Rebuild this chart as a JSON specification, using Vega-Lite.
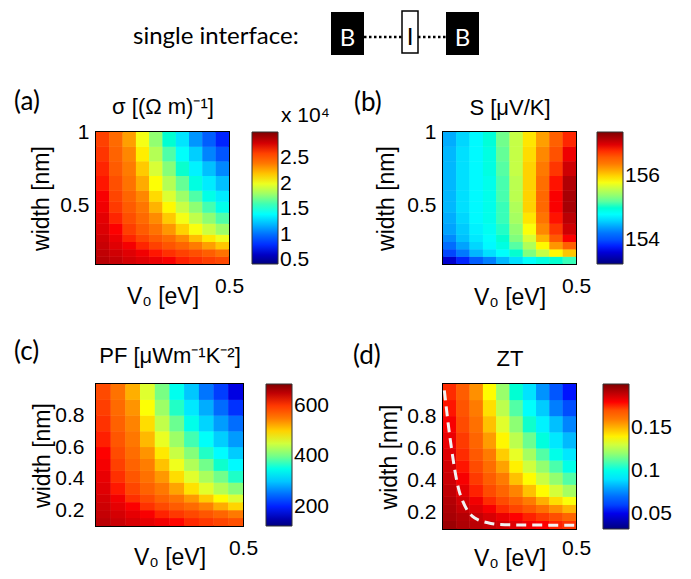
{
  "$schema": "https://vega.github.io/schema/vega-lite/v6.json",
  "background": "white",
  "padding": {"left": 13, "top": 10, "right": 0, "bottom": 0},
  "config": {
    "font": "Liberation Sans",
    "view": {"stroke": "black", "strokeWidth": 2},
    "axis": {"grid": false, "ticks": false, "domain": false, "labelColor": "black", "titleColor": "black", "labelFontSize": 21, "titleFontSize": 23, "titleFontWeight": "normal", "labelFont": "Liberation Sans", "titleFont": "Liberation Sans", "format": "~g"},
    "legend": {"labelFontSize": 21, "labelColor": "black", "labelFont": "Liberation Sans", "gradientThickness": 26, "gradientStrokeColor": "#333333", "gradientStrokeWidth": 1, "labelOverlap": false, "titleColor": "black", "labelOffset": 5},
    "title": {"font": "Lato", "fontSize": 26, "fontWeight": "normal", "color": "black", "anchor": "start", "frame": "group"}
  },
  "datasets": {
    "grid": [
      {"v0":0,"v1":0.05,"w0":0.1,"w1":0.15,"sigma":2.87,"S":153.56,"PF":652,"ZT":0.196},
      {"v0":0.05,"v1":0.1,"w0":0.1,"w1":0.15,"sigma":2.84,"S":153.81,"PF":644,"ZT":0.193},
      {"v0":0.1,"v1":0.15,"w0":0.1,"w1":0.15,"sigma":2.80,"S":154.06,"PF":636,"ZT":0.191},
      {"v0":0.15,"v1":0.2,"w0":0.1,"w1":0.15,"sigma":2.77,"S":154.27,"PF":629,"ZT":0.189},
      {"v0":0.2,"v1":0.25,"w0":0.1,"w1":0.15,"sigma":2.74,"S":154.48,"PF":622,"ZT":0.187},
      {"v0":0.25,"v1":0.3,"w0":0.1,"w1":0.15,"sigma":2.71,"S":154.65,"PF":615,"ZT":0.185},
      {"v0":0.3,"v1":0.35,"w0":0.1,"w1":0.15,"sigma":2.67,"S":154.81,"PF":607,"ZT":0.182},
      {"v0":0.35,"v1":0.4,"w0":0.1,"w1":0.15,"sigma":2.64,"S":154.94,"PF":600,"ZT":0.180},
      {"v0":0.4,"v1":0.45,"w0":0.1,"w1":0.15,"sigma":2.61,"S":155.02,"PF":593,"ZT":0.178},
      {"v0":0.45,"v1":0.5,"w0":0.1,"w1":0.15,"sigma":2.58,"S":155.11,"PF":586,"ZT":0.176},

      {"v0":0,"v1":0.05,"w0":0.15,"w1":0.2,"sigma":2.85,"S":153.94,"PF":647,"ZT":0.194},
      {"v0":0.05,"v1":0.1,"w0":0.15,"w1":0.2,"sigma":2.81,"S":154.23,"PF":638,"ZT":0.192},
      {"v0":0.1,"v1":0.15,"w0":0.15,"w1":0.2,"sigma":2.77,"S":154.48,"PF":629,"ZT":0.189},
      {"v0":0.15,"v1":0.2,"w0":0.15,"w1":0.2,"sigma":2.73,"S":154.65,"PF":619,"ZT":0.186},
      {"v0":0.2,"v1":0.25,"w0":0.15,"w1":0.2,"sigma":2.68,"S":154.81,"PF":609,"ZT":0.183},
      {"v0":0.25,"v1":0.3,"w0":0.15,"w1":0.2,"sigma":2.64,"S":155.02,"PF":600,"ZT":0.180},
      {"v0":0.3,"v1":0.35,"w0":0.15,"w1":0.2,"sigma":2.60,"S":155.32,"PF":591,"ZT":0.178},
      {"v0":0.35,"v1":0.4,"w0":0.15,"w1":0.2,"sigma":2.56,"S":155.61,"PF":581,"ZT":0.175},
      {"v0":0.4,"v1":0.45,"w0":0.15,"w1":0.2,"sigma":2.51,"S":155.86,"PF":569,"ZT":0.171},
      {"v0":0.45,"v1":0.5,"w0":0.15,"w1":0.2,"sigma":2.43,"S":156.07,"PF":551,"ZT":0.166},

      {"v0":0,"v1":0.05,"w0":0.2,"w1":0.25,"sigma":2.83,"S":154.15,"PF":642,"ZT":0.193},
      {"v0":0.05,"v1":0.1,"w0":0.2,"w1":0.25,"sigma":2.77,"S":154.40,"PF":629,"ZT":0.189},
      {"v0":0.1,"v1":0.15,"w0":0.2,"w1":0.25,"sigma":2.72,"S":154.61,"PF":617,"ZT":0.185},
      {"v0":0.15,"v1":0.2,"w0":0.2,"w1":0.25,"sigma":2.66,"S":154.77,"PF":603,"ZT":0.181},
      {"v0":0.2,"v1":0.25,"w0":0.2,"w1":0.25,"sigma":2.60,"S":154.94,"PF":590,"ZT":0.177},
      {"v0":0.25,"v1":0.3,"w0":0.2,"w1":0.25,"sigma":2.54,"S":155.19,"PF":577,"ZT":0.173},
      {"v0":0.3,"v1":0.35,"w0":0.2,"w1":0.25,"sigma":2.48,"S":155.52,"PF":564,"ZT":0.169},
      {"v0":0.35,"v1":0.4,"w0":0.2,"w1":0.25,"sigma":2.39,"S":155.86,"PF":544,"ZT":0.163},
      {"v0":0.4,"v1":0.45,"w0":0.2,"w1":0.25,"sigma":2.29,"S":156.27,"PF":521,"ZT":0.156},
      {"v0":0.45,"v1":0.5,"w0":0.2,"w1":0.25,"sigma":2.19,"S":156.57,"PF":498,"ZT":0.150},

      {"v0":0,"v1":0.05,"w0":0.25,"w1":0.3,"sigma":2.81,"S":154.31,"PF":638,"ZT":0.192},
      {"v0":0.05,"v1":0.1,"w0":0.25,"w1":0.3,"sigma":2.74,"S":154.52,"PF":622,"ZT":0.187},
      {"v0":0.1,"v1":0.15,"w0":0.25,"w1":0.3,"sigma":2.66,"S":154.69,"PF":604,"ZT":0.182},
      {"v0":0.15,"v1":0.2,"w0":0.25,"w1":0.3,"sigma":2.59,"S":154.81,"PF":589,"ZT":0.177},
      {"v0":0.2,"v1":0.25,"w0":0.25,"w1":0.3,"sigma":2.52,"S":155.02,"PF":571,"ZT":0.172},
      {"v0":0.25,"v1":0.3,"w0":0.25,"w1":0.3,"sigma":2.45,"S":155.32,"PF":555,"ZT":0.167},
      {"v0":0.3,"v1":0.35,"w0":0.25,"w1":0.3,"sigma":2.34,"S":155.69,"PF":531,"ZT":0.160},
      {"v0":0.35,"v1":0.4,"w0":0.25,"w1":0.3,"sigma":2.21,"S":156.15,"PF":503,"ZT":0.151},
      {"v0":0.4,"v1":0.45,"w0":0.25,"w1":0.3,"sigma":2.10,"S":156.61,"PF":476,"ZT":0.143},
      {"v0":0.45,"v1":0.5,"w0":0.25,"w1":0.3,"sigma":2.01,"S":156.90,"PF":456,"ZT":0.137},

      {"v0":0,"v1":0.05,"w0":0.3,"w1":0.375,"sigma":2.78,"S":154.40,"PF":632,"ZT":0.190},
      {"v0":0.05,"v1":0.1,"w0":0.3,"w1":0.375,"sigma":2.70,"S":154.56,"PF":612,"ZT":0.184},
      {"v0":0.1,"v1":0.15,"w0":0.3,"w1":0.375,"sigma":2.61,"S":154.73,"PF":592,"ZT":0.178},
      {"v0":0.15,"v1":0.2,"w0":0.3,"w1":0.375,"sigma":2.52,"S":154.86,"PF":572,"ZT":0.172},
      {"v0":0.2,"v1":0.25,"w0":0.3,"w1":0.375,"sigma":2.43,"S":155.06,"PF":552,"ZT":0.166},
      {"v0":0.25,"v1":0.3,"w0":0.3,"w1":0.375,"sigma":2.31,"S":155.40,"PF":525,"ZT":0.158},
      {"v0":0.3,"v1":0.35,"w0":0.3,"w1":0.375,"sigma":2.16,"S":155.82,"PF":491,"ZT":0.148},
      {"v0":0.35,"v1":0.4,"w0":0.3,"w1":0.375,"sigma":2.03,"S":156.32,"PF":460,"ZT":0.138},
      {"v0":0.4,"v1":0.45,"w0":0.3,"w1":0.375,"sigma":1.92,"S":156.77,"PF":435,"ZT":0.131},
      {"v0":0.45,"v1":0.5,"w0":0.3,"w1":0.375,"sigma":1.80,"S":157.07,"PF":409,"ZT":0.123},

      {"v0":0,"v1":0.05,"w0":0.375,"w1":0.45,"sigma":2.76,"S":154.44,"PF":627,"ZT":0.188},
      {"v0":0.05,"v1":0.1,"w0":0.375,"w1":0.45,"sigma":2.66,"S":154.61,"PF":604,"ZT":0.181},
      {"v0":0.1,"v1":0.15,"w0":0.375,"w1":0.45,"sigma":2.56,"S":154.77,"PF":581,"ZT":0.175},
      {"v0":0.15,"v1":0.2,"w0":0.375,"w1":0.45,"sigma":2.46,"S":154.90,"PF":559,"ZT":0.168},
      {"v0":0.2,"v1":0.25,"w0":0.375,"w1":0.45,"sigma":2.34,"S":155.11,"PF":532,"ZT":0.160},
      {"v0":0.25,"v1":0.3,"w0":0.375,"w1":0.45,"sigma":2.18,"S":155.48,"PF":494,"ZT":0.148},
      {"v0":0.3,"v1":0.35,"w0":0.375,"w1":0.45,"sigma":2.02,"S":155.94,"PF":459,"ZT":0.138},
      {"v0":0.35,"v1":0.4,"w0":0.375,"w1":0.45,"sigma":1.89,"S":156.44,"PF":429,"ZT":0.129},
      {"v0":0.4,"v1":0.45,"w0":0.375,"w1":0.45,"sigma":1.76,"S":156.86,"PF":399,"ZT":0.120},
      {"v0":0.45,"v1":0.5,"w0":0.375,"w1":0.45,"sigma":1.63,"S":157.15,"PF":369,"ZT":0.111},

      {"v0":0,"v1":0.05,"w0":0.45,"w1":0.525,"sigma":2.73,"S":154.48,"PF":621,"ZT":0.187},
      {"v0":0.05,"v1":0.1,"w0":0.45,"w1":0.525,"sigma":2.62,"S":154.65,"PF":596,"ZT":0.179},
      {"v0":0.1,"v1":0.15,"w0":0.45,"w1":0.525,"sigma":2.52,"S":154.77,"PF":571,"ZT":0.172},
      {"v0":0.15,"v1":0.2,"w0":0.45,"w1":0.525,"sigma":2.41,"S":154.90,"PF":547,"ZT":0.164},
      {"v0":0.2,"v1":0.25,"w0":0.45,"w1":0.525,"sigma":2.24,"S":155.11,"PF":509,"ZT":0.153},
      {"v0":0.25,"v1":0.3,"w0":0.45,"w1":0.525,"sigma":2.06,"S":155.52,"PF":467,"ZT":0.140},
      {"v0":0.3,"v1":0.35,"w0":0.45,"w1":0.525,"sigma":1.91,"S":156.02,"PF":433,"ZT":0.130},
      {"v0":0.35,"v1":0.4,"w0":0.45,"w1":0.525,"sigma":1.76,"S":156.52,"PF":399,"ZT":0.120},
      {"v0":0.4,"v1":0.45,"w0":0.45,"w1":0.525,"sigma":1.61,"S":156.90,"PF":366,"ZT":0.110},
      {"v0":0.45,"v1":0.5,"w0":0.45,"w1":0.525,"sigma":1.46,"S":157.23,"PF":331,"ZT":0.100},

      {"v0":0,"v1":0.05,"w0":0.525,"w1":0.6,"sigma":2.71,"S":154.48,"PF":616,"ZT":0.185},
      {"v0":0.05,"v1":0.1,"w0":0.525,"w1":0.6,"sigma":2.59,"S":154.65,"PF":589,"ZT":0.177},
      {"v0":0.1,"v1":0.15,"w0":0.525,"w1":0.6,"sigma":2.48,"S":154.77,"PF":562,"ZT":0.169},
      {"v0":0.15,"v1":0.2,"w0":0.525,"w1":0.6,"sigma":2.35,"S":154.90,"PF":534,"ZT":0.160},
      {"v0":0.2,"v1":0.25,"w0":0.525,"w1":0.6,"sigma":2.14,"S":155.15,"PF":487,"ZT":0.146},
      {"v0":0.25,"v1":0.3,"w0":0.525,"w1":0.6,"sigma":1.96,"S":155.57,"PF":446,"ZT":0.134},
      {"v0":0.3,"v1":0.35,"w0":0.525,"w1":0.6,"sigma":1.80,"S":156.02,"PF":408,"ZT":0.123},
      {"v0":0.35,"v1":0.4,"w0":0.525,"w1":0.6,"sigma":1.63,"S":156.52,"PF":370,"ZT":0.111},
      {"v0":0.4,"v1":0.45,"w0":0.525,"w1":0.6,"sigma":1.47,"S":156.90,"PF":333,"ZT":0.100},
      {"v0":0.45,"v1":0.5,"w0":0.525,"w1":0.6,"sigma":1.34,"S":157.23,"PF":303,"ZT":0.091},

      {"v0":0,"v1":0.05,"w0":0.6,"w1":0.7,"sigma":2.68,"S":154.48,"PF":610,"ZT":0.183},
      {"v0":0.05,"v1":0.1,"w0":0.6,"w1":0.7,"sigma":2.56,"S":154.65,"PF":581,"ZT":0.175},
      {"v0":0.1,"v1":0.15,"w0":0.6,"w1":0.7,"sigma":2.43,"S":154.77,"PF":553,"ZT":0.166},
      {"v0":0.15,"v1":0.2,"w0":0.6,"w1":0.7,"sigma":2.26,"S":154.90,"PF":514,"ZT":0.154},
      {"v0":0.2,"v1":0.25,"w0":0.6,"w1":0.7,"sigma":2.04,"S":155.15,"PF":464,"ZT":0.139},
      {"v0":0.25,"v1":0.3,"w0":0.6,"w1":0.7,"sigma":1.86,"S":155.57,"PF":422,"ZT":0.127},
      {"v0":0.3,"v1":0.35,"w0":0.6,"w1":0.7,"sigma":1.67,"S":156.02,"PF":380,"ZT":0.114},
      {"v0":0.35,"v1":0.4,"w0":0.6,"w1":0.7,"sigma":1.49,"S":156.48,"PF":338,"ZT":0.102},
      {"v0":0.4,"v1":0.45,"w0":0.6,"w1":0.7,"sigma":1.34,"S":156.86,"PF":304,"ZT":0.091},
      {"v0":0.45,"v1":0.5,"w0":0.6,"w1":0.7,"sigma":1.22,"S":157.19,"PF":277,"ZT":0.083},

      {"v0":0,"v1":0.05,"w0":0.7,"w1":0.8,"sigma":2.66,"S":154.48,"PF":603,"ZT":0.181},
      {"v0":0.05,"v1":0.1,"w0":0.7,"w1":0.8,"sigma":2.52,"S":154.65,"PF":573,"ZT":0.172},
      {"v0":0.1,"v1":0.15,"w0":0.7,"w1":0.8,"sigma":2.39,"S":154.77,"PF":543,"ZT":0.163},
      {"v0":0.15,"v1":0.2,"w0":0.7,"w1":0.8,"sigma":2.18,"S":154.94,"PF":494,"ZT":0.148},
      {"v0":0.2,"v1":0.25,"w0":0.7,"w1":0.8,"sigma":1.95,"S":155.19,"PF":442,"ZT":0.133},
      {"v0":0.25,"v1":0.3,"w0":0.7,"w1":0.8,"sigma":1.74,"S":155.61,"PF":396,"ZT":0.119},
      {"v0":0.3,"v1":0.35,"w0":0.7,"w1":0.8,"sigma":1.54,"S":156.02,"PF":349,"ZT":0.105},
      {"v0":0.35,"v1":0.4,"w0":0.7,"w1":0.8,"sigma":1.36,"S":156.40,"PF":308,"ZT":0.093},
      {"v0":0.4,"v1":0.45,"w0":0.7,"w1":0.8,"sigma":1.22,"S":156.77,"PF":278,"ZT":0.084},
      {"v0":0.45,"v1":0.5,"w0":0.7,"w1":0.8,"sigma":1.09,"S":157.07,"PF":248,"ZT":0.075},

      {"v0":0,"v1":0.05,"w0":0.8,"w1":0.9,"sigma":2.63,"S":154.48,"PF":597,"ZT":0.179},
      {"v0":0.05,"v1":0.1,"w0":0.8,"w1":0.9,"sigma":2.49,"S":154.65,"PF":565,"ZT":0.170},
      {"v0":0.1,"v1":0.15,"w0":0.8,"w1":0.9,"sigma":2.35,"S":154.77,"PF":534,"ZT":0.160},
      {"v0":0.15,"v1":0.2,"w0":0.8,"w1":0.9,"sigma":2.09,"S":154.94,"PF":474,"ZT":0.143},
      {"v0":0.2,"v1":0.25,"w0":0.8,"w1":0.9,"sigma":1.86,"S":155.23,"PF":422,"ZT":0.127},
      {"v0":0.25,"v1":0.3,"w0":0.8,"w1":0.9,"sigma":1.63,"S":155.61,"PF":370,"ZT":0.111},
      {"v0":0.3,"v1":0.35,"w0":0.8,"w1":0.9,"sigma":1.41,"S":155.98,"PF":320,"ZT":0.096},
      {"v0":0.35,"v1":0.4,"w0":0.8,"w1":0.9,"sigma":1.26,"S":156.32,"PF":286,"ZT":0.086},
      {"v0":0.4,"v1":0.45,"w0":0.8,"w1":0.9,"sigma":1.08,"S":156.65,"PF":246,"ZT":0.074},
      {"v0":0.45,"v1":0.5,"w0":0.8,"w1":0.9,"sigma":0.91,"S":156.94,"PF":207,"ZT":0.062},

      {"v0":0,"v1":0.05,"w0":0.9,"w1":1.0,"sigma":2.60,"S":154.44,"PF":590,"ZT":0.177},
      {"v0":0.05,"v1":0.1,"w0":0.9,"w1":1.0,"sigma":2.46,"S":154.61,"PF":558,"ZT":0.168},
      {"v0":0.1,"v1":0.15,"w0":0.9,"w1":1.0,"sigma":2.29,"S":154.77,"PF":519,"ZT":0.156},
      {"v0":0.15,"v1":0.2,"w0":0.9,"w1":1.0,"sigma":2.02,"S":154.98,"PF":458,"ZT":0.138},
      {"v0":0.2,"v1":0.25,"w0":0.9,"w1":1.0,"sigma":1.77,"S":155.27,"PF":402,"ZT":0.121},
      {"v0":0.25,"v1":0.3,"w0":0.9,"w1":1.0,"sigma":1.53,"S":155.61,"PF":346,"ZT":0.104},
      {"v0":0.3,"v1":0.35,"w0":0.9,"w1":1.0,"sigma":1.32,"S":155.94,"PF":300,"ZT":0.090},
      {"v0":0.35,"v1":0.4,"w0":0.9,"w1":1.0,"sigma":1.12,"S":156.23,"PF":255,"ZT":0.077},
      {"v0":0.4,"v1":0.45,"w0":0.9,"w1":1.0,"sigma":0.94,"S":156.57,"PF":213,"ZT":0.064},
      {"v0":0.45,"v1":0.5,"w0":0.9,"w1":1.0,"sigma":0.78,"S":156.82,"PF":178,"ZT":0.054}
    ],
    "dash": [
      {"v0":0.005,"w0":0.96},{"v0":0.012,"w0":0.86},{"v0":0.022,"w0":0.72},{"v0":0.032,"w0":0.6},
      {"v0":0.045,"w0":0.46},{"v0":0.06,"w0":0.34},{"v0":0.075,"w0":0.27},{"v0":0.09,"w0":0.22},
      {"v0":0.11,"w0":0.18},{"v0":0.135,"w0":0.155},{"v0":0.165,"w0":0.14},{"v0":0.21,"w0":0.128},
      {"v0":0.3,"w0":0.125},{"v0":0.4,"w0":0.124},{"v0":0.497,"w0":0.124}
    ]
  },
  "columns": 2,
  "spacing": {"row": 20, "column": 200},
  "bounds": "flush",
  "align": "each",
  "resolve": {"scale": {"color": "independent", "x": "independent", "y": "independent"}, "legend": {"color": "independent"}},
  "concat": [
    {
      "width": 147, "height": 102,
      "view": {"stroke": null},
      "layer": [
        {
          "data": {"values": [{"x0":23.5,"x1":26.8,"y0":5.7,"y1":10.0},{"x0":35.0,"x1":38.3,"y0":5.7,"y1":10.0}]},
          "mark": {"type": "rect", "color": "black"},
          "encoding": {
            "x": {"field": "x0", "type": "quantitative", "scale": {"domain": [0, 14.7], "nice": false, "zero": false}, "axis": null},
            "x2": {"field": "x1"},
            "y": {"field": "y0", "type": "quantitative", "scale": {"domain": [0, 10.2], "nice": false, "zero": false}, "axis": null},
            "y2": {"field": "y1"}
          }
        },
        {
          "data": {"values": [{"x0":30.6,"x1":32.2,"y0":5.9,"y1":10.1}]},
          "mark": {"type": "rect", "fill": "white", "stroke": "black", "strokeWidth": 1.5},
          "encoding": {
            "x": {"field": "x0", "type": "quantitative", "axis": null},
            "x2": {"field": "x1"},
            "y": {"field": "y0", "type": "quantitative", "axis": null},
            "y2": {"field": "y1"}
          }
        },
        {
          "data": {"values": [{"x0":26.8,"x1":30.6,"y0":7.5},{"x0":32.2,"x1":35.0,"y0":7.5}]},
          "mark": {"type": "rule", "color": "black", "strokeWidth": 2.5, "strokeDash": [2.5, 2.5]},
          "encoding": {
            "x": {"field": "x0", "type": "quantitative", "axis": null},
            "x2": {"field": "x1"},
            "y": {"field": "y0", "type": "quantitative", "axis": null}
          }
        },
        {
          "data": {"values": [{"x0":25.15,"y0":7.35,"t":"B"},{"x0":36.65,"y0":7.35,"t":"B"}]},
          "mark": {"type": "text", "color": "white", "font": "Lato", "fontSize": 24, "baseline": "middle"},
          "encoding": {
            "x": {"field": "x0", "type": "quantitative", "axis": null},
            "y": {"field": "y0", "type": "quantitative", "axis": null},
            "text": {"field": "t"}
          }
        },
        {
          "data": {"values": [{"x0":31.4,"y0":7.45,"t":"I"}]},
          "mark": {"type": "text", "color": "black", "font": "Lato", "fontSize": 24, "baseline": "middle"},
          "encoding": {
            "x": {"field": "x0", "type": "quantitative", "axis": null},
            "y": {"field": "y0", "type": "quantitative", "axis": null},
            "text": {"field": "t"}
          }
        },
        {
          "data": {"values": [{"x0":3.7,"y0":7.5,"t":"single interface:"}]},
          "mark": {"type": "text", "color": "black", "font": "Lato", "fontSize": 24, "align": "left", "baseline": "middle"},
          "encoding": {
            "x": {"field": "x0", "type": "quantitative", "axis": null},
            "y": {"field": "y0", "type": "quantitative", "axis": null},
            "text": {"field": "t"}
          }
        }
      ]
    },
    {
      "width": 133, "height": 102,
      "view": {"stroke": null},
      "data": {"values": []},
      "mark": "point",
      "encoding": {}
    },
    {
      "width": 133, "height": 132,
      "title": {"text": "(a)", "dx": -82, "dy": 24},
      "layer": [
        {
          "data": {"name": "grid"},
          "mark": {"type": "rect"},
          "encoding": {
            "x": {"field": "v0", "type": "quantitative", "scale": {"domain": [0, 0.5], "nice": false, "zero": false}, "axis": {"values": [0.5], "labelFlush": false, "labelPadding": 11, "title": "V₀ [eV]", "titleY": 39, "titleBaseline": "alphabetic"}},
            "x2": {"field": "v1"},
            "y": {"field": "w0", "type": "quantitative", "scale": {"domain": [0.1, 1], "nice": false, "zero": false}, "axis": {"values": [0.5, 1], "labelPadding": 7, "title": "width [nm]", "titleX": -55, "titleBaseline": "middle"}},
            "y2": {"field": "w1"},
            "color": {"field": "sigma", "type": "quantitative", "scale": {"domain": [0.42, 3.02], "range": ["#00007f","#0000ff","#007fff","#00ffff","#7fff7f","#ffff00","#ff7f00","#ff0000","#7f0000"]}, "legend": {"type": "gradient", "orient": "none", "legendX": 156, "legendY": -27, "gradientLength": 132, "values": [0.5, 1, 1.5, 2, 2.5], "format": ".2~g", "title": "x 10⁴", "titleFontSize": 21, "titleFontWeight": "normal", "titleFont": "Liberation Sans", "titleAnchor": "middle", "titleAlign": "left", "titlePadding": 6}}
          }
        },
        {
          "data": {"name": "grid"},
          "mark": {"type": "rect"},
          "encoding": {
            "x": {"field": "v0", "type": "quantitative", "axis": null},
            "x2": {"field": "v1"},
            "y": {"field": "w0", "type": "quantitative", "axis": null},
            "y2": {"field": "w1"},
            "color": {"field": "sigma", "type": "quantitative", "legend": null}
          }
        },
        {
          "data": {"values": [{"v0": 0, "v1": 0.5}]},
          "mark": {"type": "rect", "opacity": 0},
          "encoding": {
            "x": {"field": "v0", "type": "quantitative", "axis": {"orient": "top", "labels": false, "title": "σ [(Ω m)⁻¹]", "titleY": -19, "titleBaseline": "alphabetic", "titleFontSize": 22}},
            "x2": {"field": "v1"}
          }
        }
      ],
      "resolve": {"axis": {"x": "independent", "y": "independent"}}
    },
    {
      "width": 133, "height": 132,
      "title": {"text": "(b)", "dx": -89, "dy": 24},
      "layer": [
        {
          "data": {"name": "grid"},
          "mark": {"type": "rect"},
          "encoding": {
            "x": {"field": "v0", "type": "quantitative", "scale": {"domain": [0, 0.5], "nice": false, "zero": false}, "axis": {"values": [0.5], "labelFlush": false, "labelPadding": 11, "title": "V₀ [eV]", "titleY": 40, "titleBaseline": "alphabetic"}},
            "x2": {"field": "v1"},
            "y": {"field": "w0", "type": "quantitative", "scale": {"domain": [0.1, 1], "nice": false, "zero": false}, "axis": {"values": [0.5, 1], "labelPadding": 7, "title": "width [nm]", "titleX": -57, "titleBaseline": "middle"}},
            "y2": {"field": "w1"},
            "color": {"field": "S", "type": "quantitative", "scale": {"domain": [153.23, 157.4], "range": ["#00007f","#0000ff","#007fff","#00ffff","#7fff7f","#ffff00","#ff7f00","#ff0000","#7f0000"]}, "legend": {"type": "gradient", "orient": "right", "offset": 21, "gradientLength": 132, "values": [154, 156], "format": "d", "title": null}}
          }
        },
        {
          "data": {"name": "grid"},
          "mark": {"type": "rect"},
          "encoding": {
            "x": {"field": "v0", "type": "quantitative", "axis": null},
            "x2": {"field": "v1"},
            "y": {"field": "w0", "type": "quantitative", "axis": null},
            "y2": {"field": "w1"},
            "color": {"field": "S", "type": "quantitative", "legend": null}
          }
        },
        {
          "data": {"values": [{"v0": 0, "v1": 0.5}]},
          "mark": {"type": "rect", "opacity": 0},
          "encoding": {
            "x": {"field": "v0", "type": "quantitative", "axis": {"orient": "top", "labels": false, "title": "S [μV/K]", "titleY": -18, "titleBaseline": "alphabetic", "titleFontSize": 22}},
            "x2": {"field": "v1"}
          }
        }
      ],
      "resolve": {"axis": {"x": "independent", "y": "independent"}}
    },
    {
      "width": 147, "height": 80,
      "view": {"stroke": null},
      "data": {"values": []},
      "mark": "point",
      "encoding": {}
    },
    {
      "width": 133, "height": 80,
      "view": {"stroke": null},
      "data": {"values": []},
      "mark": "point",
      "encoding": {}
    },
    {
      "width": 147, "height": 142,
      "title": {"text": "(c)", "dx": -82, "dy": 25},
      "layer": [
        {
          "data": {"name": "grid"},
          "mark": {"type": "rect"},
          "encoding": {
            "x": {"field": "v0", "type": "quantitative", "scale": {"domain": [0, 0.5], "nice": false, "zero": false}, "axis": {"values": [0.5], "labelFlush": false, "labelPadding": 11, "title": "V₀ [eV]", "titleY": 38, "titleBaseline": "alphabetic"}},
            "x2": {"field": "v1"},
            "y": {"field": "w0", "type": "quantitative", "scale": {"domain": [0.1, 1], "nice": false, "zero": false}, "axis": {"values": [0.2, 0.4, 0.6, 0.8], "labelPadding": 12, "title": "width [nm]", "titleX": -54, "titleBaseline": "middle"}},
            "y2": {"field": "w1"},
            "color": {"field": "PF", "type": "quantitative", "scale": {"domain": [123, 686], "range": ["#00007f","#0000ff","#007fff","#00ffff","#7fff7f","#ffff00","#ff7f00","#ff0000","#7f0000"]}, "legend": {"type": "gradient", "orient": "right", "offset": 23, "gradientLength": 142, "values": [200, 400, 600], "format": "d", "title": null}}
          }
        },
        {
          "data": {"name": "grid"},
          "mark": {"type": "rect"},
          "encoding": {
            "x": {"field": "v0", "type": "quantitative", "axis": null},
            "x2": {"field": "v1"},
            "y": {"field": "w0", "type": "quantitative", "axis": null},
            "y2": {"field": "w1"},
            "color": {"field": "PF", "type": "quantitative", "legend": null}
          }
        },
        {
          "data": {"values": [{"v0": 0, "v1": 0.5}]},
          "mark": {"type": "rect", "opacity": 0},
          "encoding": {
            "x": {"field": "v0", "type": "quantitative", "axis": {"orient": "top", "labels": false, "title": "PF [μWm⁻¹K⁻²]", "titleY": -22, "titleBaseline": "alphabetic", "titleFontSize": 22}},
            "x2": {"field": "v1"}
          }
        }
      ],
      "resolve": {"axis": {"x": "independent", "y": "independent"}}
    },
    {
      "width": 133, "height": 145,
      "title": {"text": "(d)", "dx": -90, "dy": 26},
      "layer": [
        {
          "data": {"name": "grid"},
          "mark": {"type": "rect"},
          "encoding": {
            "x": {"field": "v0", "type": "quantitative", "scale": {"domain": [0, 0.5], "nice": false, "zero": false}, "axis": {"values": [0.5], "labelFlush": false, "labelPadding": 8, "title": "V₀ [eV]", "titleY": 36, "titleBaseline": "alphabetic"}},
            "x2": {"field": "v1"},
            "y": {"field": "w0", "type": "quantitative", "scale": {"domain": [0.1, 1], "nice": false, "zero": false}, "axis": {"values": [0.2, 0.4, 0.6, 0.8], "labelPadding": 7, "title": "width [nm]", "titleX": -54, "titleBaseline": "middle"}},
            "y2": {"field": "w1"},
            "color": {"field": "ZT", "type": "quantitative", "scale": {"domain": [0.032, 0.201], "range": ["#00007f","#0000ff","#007fff","#00ffff","#7fff7f","#ffff00","#ff7f00","#ff0000","#7f0000"]}, "legend": {"type": "gradient", "orient": "right", "offset": 27, "gradientLength": 145, "values": [0.05, 0.1, 0.15], "format": ".2~g", "title": null}}
          }
        },
        {
          "data": {"name": "grid"},
          "mark": {"type": "rect"},
          "encoding": {
            "x": {"field": "v0", "type": "quantitative", "axis": null},
            "x2": {"field": "v1"},
            "y": {"field": "w0", "type": "quantitative", "axis": null},
            "y2": {"field": "w1"},
            "color": {"field": "ZT", "type": "quantitative", "legend": null}
          }
        },
        {
          "data": {"name": "dash"},
          "mark": {"type": "line", "color": "#f2f2f2", "strokeWidth": 3, "strokeDash": [10, 6], "interpolate": "monotone"},
          "encoding": {
            "x": {"field": "v0", "type": "quantitative", "axis": null},
            "y": {"field": "w0", "type": "quantitative", "axis": null}
          }
        },
        {
          "data": {"values": [{"v0": 0, "v1": 0.5}]},
          "mark": {"type": "rect", "opacity": 0},
          "encoding": {
            "x": {"field": "v0", "type": "quantitative", "axis": {"orient": "top", "labels": false, "title": "ZT", "titleY": -19, "titleBaseline": "alphabetic", "titleFontSize": 22}},
            "x2": {"field": "v1"}
          }
        }
      ],
      "resolve": {"axis": {"x": "independent", "y": "independent"}}
    }
  ]
}
